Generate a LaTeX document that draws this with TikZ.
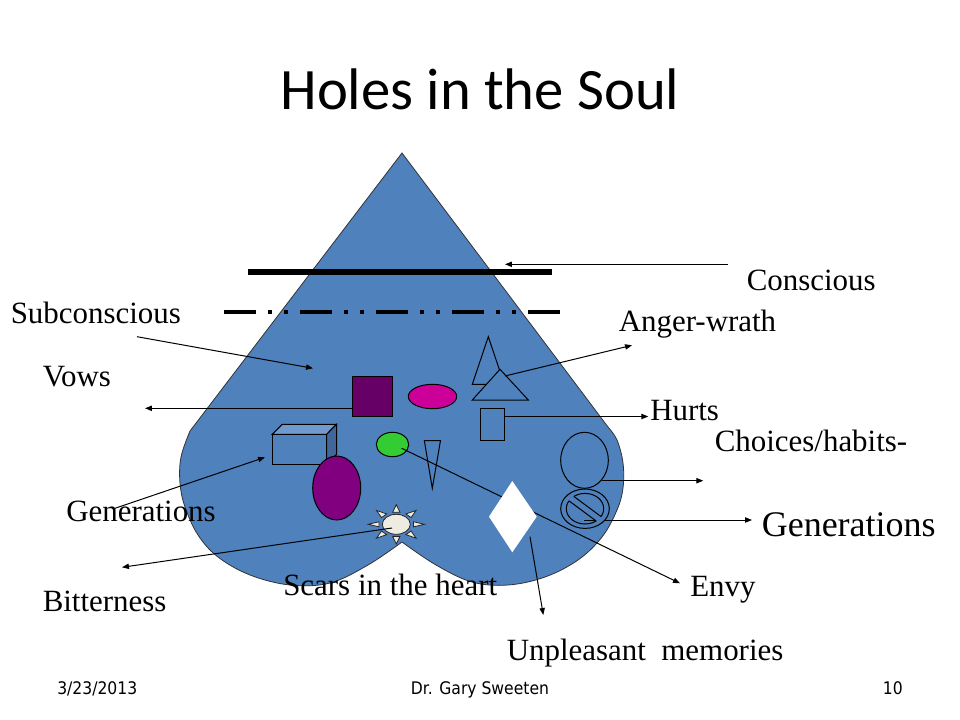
\documentclass[tikz,border=0pt]{standalone}
\usepackage{fontspec}
\setmainfont{Liberation Serif}
\newfontfamily\titlefont{Carlito}
\newfontfamily\footfont{DejaVu Sans Condensed}
\usetikzlibrary{arrows.meta}
\definecolor{heartblue}{HTML}{4F81BD}
\definecolor{sqpurple}{HTML}{660066}
\definecolor{elmag}{HTML}{CC0099}
\definecolor{elgreen}{HTML}{33CC33}
\definecolor{elpurple}{HTML}{800080}
\definecolor{sunfill}{HTML}{EEECE1}
\definecolor{cubetop}{HTML}{7099CD}
\definecolor{cubeside}{HTML}{41679A}
\begin{document}
\begin{tikzpicture}[x=0.75pt,y=-0.75pt,
  lbl/.style={font=\fontsize{23.2}{27}\selectfont, inner sep=0pt, anchor=base west},
  foot/.style={font=\footfont\fontsize{13}{15}\selectfont, inner sep=0pt},
  conn/.style={line width=0.75pt, -{Triangle[length=5.2pt,width=4pt]}},
  outl/.style={draw=black, line width=0.75pt},
]
\fill[white] (0,0) rectangle (960,720);
\useasboundingbox (0,0) rectangle (960,720);

% heart
\path[fill=heartblue, draw=black!80, line width=0.6pt] (402,153) -- (190,431)
  -- plot[smooth, tension=0.6] coordinates {(190,431) (181,457) (180,483) (185,507) (198,535) (218,557) (250,575) (290,585) (330,583) (368,565) (402,542)}
  -- plot[smooth, tension=0.6] coordinates {(402,542) (436,565) (472,582) (508,585) (545,577) (578,560) (602,537) (617,510) (623,488) (623,463) (617,440) (608,427)}
  -- cycle;

% levels
\draw[line width=4.5pt] (248,272) -- (552,272);
\draw[line width=3pt, dash pattern=on 24pt off 9pt on 3pt off 9pt on 3pt off 9pt] (224,311.7) -- (560,311.7);

% coordinates for connectors
\coordinate (cA) at (728,264.3);  \coordinate (cB) at (505,264.3);
\coordinate (sA) at (137,336.7);  \coordinate (sB) at (313,368.3);
\coordinate (vA) at (352.3,408.3); \coordinate (vB) at (145,408.3);
\coordinate (aA) at (505,376);    \coordinate (aB) at (632,345.3);
\coordinate (hA) at (504.3,416.5); \coordinate (hB) at (648.3,416.5);
\coordinate (chA) at (601.7,480.7); \coordinate (chB) at (703.3,480.7);
\coordinate (gA) at (584,520);    \coordinate (gB) at (752,520);
\coordinate (glA) at (115,508.3); \coordinate (glB) at (265,457.3);
\coordinate (bA) at (392,528);    \coordinate (bB) at (122,567.3);
\coordinate (eA) at (401.7,448.3); \coordinate (eB) at (680,583.3);
\coordinate (uA) at (530,536.7);  \coordinate (uB) at (543.3,615);

% square
\draw[outl, fill=sqpurple] (352.3,376.3) rectangle (392.7,416.3);
% magenta ellipse
\draw[outl, fill=elmag] (432.5,396.5) ellipse [x radius=24.2, y radius=12.2];
% triangles
\draw[outl, fill=heartblue] (488.3,336.7) -- (472.3,384.3) -- (504.3,384.3) -- cycle;
\draw[outl, fill=heartblue] (500,369.3) -- (472.3,400) -- (528.3,400) -- cycle;
% hurts rectangle
\draw[outl] (480.3,408.3) rectangle (504.3,440.3);
% narrow triangle
\draw[outl] (424.3,440.5) -- (440.5,440.5) -- (432.3,488.3) -- cycle;
% cube
\draw[outl, fill=heartblue] (272.3,434.3) rectangle (326.7,464.3);
\draw[outl, fill=cubetop] (272.3,434.3) -- (282.3,424.3) -- (336.5,424.3) -- (326.7,434.3) -- cycle;
\draw[outl, fill=cubeside] (326.7,434.3) -- (336.5,424.3) -- (336.5,454.3) -- (326.7,464.3) -- cycle;
% purple ellipse
\draw[outl, fill=elpurple] (336.7,488) ellipse [x radius=24, y radius=32];
% green ellipse
\draw[outl, fill=elgreen] (392.5,444.5) ellipse [x radius=16.2, y radius=12.2];
% choices ellipse
\draw[outl] (584.5,460.3) ellipse [x radius=23.8, y radius=28];

% sun
\begin{scope}[shift={(396.3,524.3)}, xscale=28, yscale=19.6]
  \foreach \a in {0,45,...,315}
    \draw[fill=sunfill, draw=black!85, line width=0.6pt] (\a:1) -- (\a+12:0.63) -- (\a-12:0.63) -- cycle;
\end{scope}
\draw[fill=sunfill, draw=black!85, line width=0.6pt] (396.3,524.3) ellipse [x radius=14, y radius=10];

% connectors under shapes
\draw[conn] (eA) -- (eB);
\draw[conn] (gA) -- (gB);

% diamond
\fill[white] (512.3,481) -- (536.7,516.7) -- (512.3,552.3) -- (489,516.7) -- cycle;

% no symbol
\begin{scope}[shift={(585,508.7)}]
  \fill[heartblue, even odd rule] (0,0) ellipse [x radius=24.3, y radius=19.7] (0,0) ellipse [x radius=18.7, y radius=15.3];
  \draw[outl] (0,0) ellipse [x radius=24.3, y radius=19.7];
  \draw[outl] (0,0) ellipse [x radius=18.7, y radius=15.3];
  \begin{scope}
    \clip (0,0) ellipse [x radius=19.6, y radius=16.2];
    \fill[heartblue] (18.2,17.5) -- (22.0,12.3) -- (-18.2,-17.5) -- (-22.0,-12.3) -- cycle;
  \end{scope}
  \begin{scope}
    \clip (0,0) ellipse [x radius=18.7, y radius=15.3];
    \draw[outl] (-22.0,-12.3) -- (18.2,17.5);
    \draw[outl] (-18.2,-17.5) -- (22.0,12.3);
  \end{scope}
\end{scope}

% other connectors
\draw[conn] (cA) -- (cB);
\draw[conn] (sA) -- (sB);
\draw[conn] (vA) -- (vB);
\draw[conn] (aA) -- (aB);
\draw[conn] (hA) -- (hB);
\draw[conn] (chA) -- (chB);
\draw[conn] (glA) -- (glB);
\draw[conn] (bA) -- (bB);
\draw[conn] (uA) -- (uB);

% title
\node[font=\titlefont\fontsize{44}{53}\selectfont, anchor=base, inner sep=0pt] (title) at (480,110) {Holes in the Soul};

% labels
\node[lbl] (conscious) at (746.5,291) {Conscious};
\node[lbl] (subcon) at (10.5,323.3) {Subconscious};
\node[lbl] (anger) at (618.5,331.7) {Anger-wrath};
\node[lbl] (vows) at (42.5,386.7) {Vows};
\node[lbl] (hurts) at (650,420) {Hurts};
\node[lbl] (choices) at (714.5,451.7) {Choices/habits-};
\node[lbl, font=\fontsize{27}{32}\selectfont] (genR) at (761.5,536.7) {Generations};
\node[lbl] (genL) at (66,521.7) {Generations};
\node[lbl] (envy) at (690,596.7) {Envy};
\node[lbl] (scars) at (283,595) {Scars in the heart};
\node[lbl] (bitter) at (42.5,611.7) {Bitterness};
\node[lbl] (unpl) at (506.5,660) {Unpleasant\ \ memories};

% footer
\node[foot, anchor=base west] (date) at (57,694) {3/23/2013};
\node[foot, anchor=base] (author) at (480,694) {Dr. Gary Sweeten};
\node[foot, anchor=base east] (page) at (903,694) {10};
\end{tikzpicture}
\end{document}
